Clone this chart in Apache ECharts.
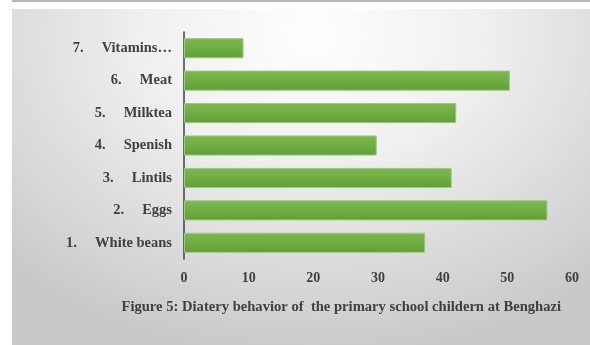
<!DOCTYPE html>
<html>
<head>
<meta charset="utf-8">
<script src="https://cdn.jsdelivr.net/npm/echarts@6/dist/echarts.min.js"></script>
<style>
	html, body { margin: 0; padding: 0; background: #fff; }
	#wrap { position: relative; width: 590px; height: 345px; overflow: hidden; }
	#topline { position: absolute; left: 12px; top: 0; width: 578px; height: 2px; background: #b8b8b8; }
	#panel {
		position: absolute; left: 12px; top: 9px; width: 578px; height: 336px;
		background: radial-gradient(ellipse 75% 95% at 52% 8%, #ffffff 0%, #efefef 40%, #d6d6d6 80%, #c9c9c9 100%);
	}
	#chart { position: absolute; left: 0; top: 0; width: 590px; height: 345px; }
</style>
</head>
<body>
<div id="wrap">
	<div id="topline"></div>
	<div id="panel"></div>
	<div id="chart"></div>
</div>
<script>
	// categories from bottom to top
	var categories = ['1.     White beans', '2.     Eggs', '3.     Lintils', '4.     Spenish', '5.     Milktea', '6.     Meat', '7.     Vitamins…'];
	var values = [37.3, 56.2, 41.4, 29.8, 42.1, 50.4, 9.2];
	var xTicks = [0, 10, 20, 30, 40, 50, 60];
	var caption = 'Figure 5: Diatery behavior of  the primary school childern at Benghazi';

	var font = '"Liberation Serif", "Times New Roman", serif';
	var textColor = '#404040';

	var myChart = echarts.init(document.getElementById('chart'), null, { renderer: 'canvas' });
	var option = {
		backgroundColor: 'transparent',
		animation: false,
		title: {
			text: caption,
			right: 24,
			top: 295,
			textStyle: { fontFamily: font, fontSize: 14.6, fontWeight: 'bold', color: textColor },
		},
		grid: {
			left: 184,
			right: 18,
			top: 32,
			bottom: 86,
			containLabel: false,
		},
		xAxis: {
			type: 'value',
			min: xTicks[0],
			max: xTicks[xTicks.length - 1],
			interval: 10,
			axisLine: { show: false },
			axisTick: { show: false },
			splitLine: { show: false },
			axisLabel: {
				margin: 12,
				fontFamily: font,
				fontSize: 14,
				fontWeight: 'bold',
				color: textColor,
			},
		},
		yAxis: {
			type: 'category',
			data: categories,
			axisLine: { show: true, lineStyle: { color: '#404040', width: 1.5 } },
			axisTick: { show: false },
			axisLabel: {
				margin: 12,
				fontFamily: font,
				fontSize: 14.5,
				fontWeight: 'bold',
				color: textColor,
			},
		},
		series: [
			{
				type: 'bar',
				data: values,
				barWidth: '62%',
				itemStyle: {
					color: new echarts.graphic.LinearGradient(0, 0, 0, 1, [
						{ offset: 0, color: '#7cb84f' },
						{ offset: 0.5, color: '#6fae43' },
						{ offset: 1, color: '#5f9e35' },
					]),
					borderColor: '#9acb7a',
					borderWidth: 1,
				},
			},
		],
	};
	myChart.setOption(option);
</script>
</body>
</html>
